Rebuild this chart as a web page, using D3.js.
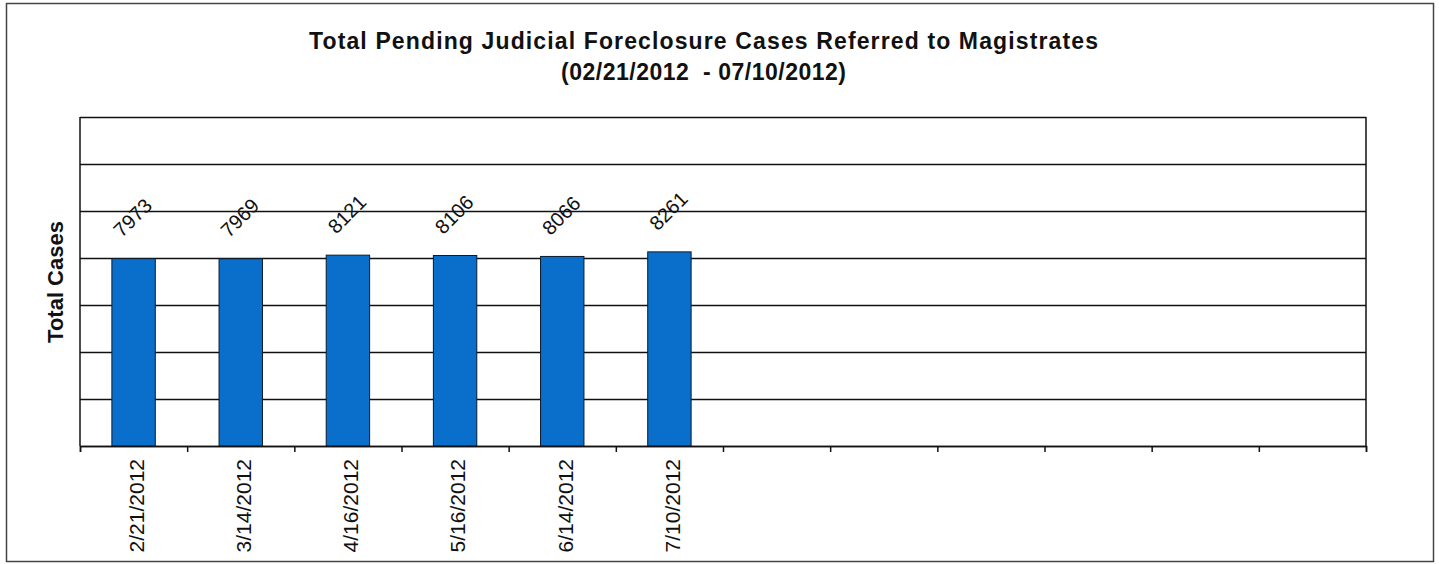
<!DOCTYPE html>
<html>
<head>
<meta charset="utf-8">
<script src="https://cdn.jsdelivr.net/npm/d3@7"></script>
<style>
  body { margin: 0; background: #fff; }
  svg { display: block; font-family: "Liberation Sans", Arial, sans-serif; }
</style>
</head>
<body>
<div id="graph"></div>
<script>
'use strict';

// chart data
const dates = ["2/21/2012", "3/14/2012", "4/16/2012", "5/16/2012", "6/14/2012", "7/10/2012"];
const cases = [7973, 7969, 8121, 8106, 8066, 8261];
const slotCount = 12; // the sheet reserves 12 category slots, only 6 are filled
const yTicks = [0, 2000, 4000, 6000, 8000, 10000, 12000, 14000];

const titleLine1 = "Total Pending Judicial Foreclosure Cases Referred to Magistrates";
const titleLine2 = "(02/21/2012  - 07/10/2012)";
const yLabel = "Total Cases";

(function() {
  const width = 1439, height = 564;
  const plot = { left: 80, right: 1366, top: 117, bottom: 446 };

  const svg = d3.select('#graph').append('svg')
    .attr('width', width)
    .attr('height', height);

  // outer frame
  svg.append('rect')
    .attr('x', 6.5).attr('y', 3.5)
    .attr('width', 1427).attr('height', 558)
    .attr('fill', 'none')
    .attr('stroke', '#444')
    .attr('stroke-width', 1.5);

  // scales
  const slots = d3.range(slotCount);
  const x = d3.scaleBand()
    .domain(slots)
    .range([plot.left, plot.right])
    .paddingInner(0.595)
    .paddingOuter(0.2975);

  const xEdge = d3.scaleLinear()
    .domain([0, slotCount])
    .range([plot.left, plot.right]);

  const y = d3.scaleLinear()
    .domain([0, 14000])
    .range([plot.bottom, plot.top]);

  // horizontal gridlines
  const grid = svg.append('g')
    .attr('transform', `translate(${plot.left},0)`)
    .call(d3.axisLeft(y).tickValues(yTicks).tickSize(-(plot.right - plot.left)).tickFormat(''));
  grid.select('.domain').remove();
  grid.selectAll('.tick line').attr('stroke', '#111').attr('stroke-width', 1.5);

  // left and right plot edges
  svg.append('line')
    .attr('x1', plot.left).attr('x2', plot.left)
    .attr('y1', y(14000)).attr('y2', y(0))
    .attr('stroke', '#111').attr('stroke-width', 1.5);
  svg.append('line')
    .attr('x1', plot.right).attr('x2', plot.right)
    .attr('y1', y(14000)).attr('y2', y(0))
    .attr('stroke', '#111').attr('stroke-width', 1.5);

  // bars
  svg.selectAll('.bar')
    .data(cases)
    .enter()
    .append('rect')
      .attr('class', 'bar')
      .attr('x', (d, i) => x(i))
      .attr('y', d => y(d))
      .attr('width', x.bandwidth())
      .attr('height', d => y(0) - y(d))
      .attr('fill', '#0a6fcb')
      .attr('stroke', '#0d1a2a')
      .attr('stroke-width', 1);

  // value labels, tilted
  svg.selectAll('.valueLabel')
    .data(cases)
    .enter()
    .append('text')
      .attr('class', 'valueLabel')
      .attr('transform', (d, i) => `translate(${x(i) + x.bandwidth() / 2 - 1},${y(d) - 41}) rotate(-45)`)
      .attr('text-anchor', 'middle')
      .attr('dominant-baseline', 'central')
      .style('font-size', '20px')
      .attr('fill', '#111')
      .text(d => d);

  // bottom axis: ticks between category slots
  const xAxisG = svg.append('g')
    .attr('transform', `translate(0,${plot.bottom})`)
    .call(d3.axisBottom(xEdge).tickValues(d3.range(slotCount + 1)).tickSize(6).tickFormat(''));
  xAxisG.select('.domain').attr('stroke', '#111').attr('stroke-width', 1.5);
  xAxisG.selectAll('.tick line').attr('stroke', '#111').attr('stroke-width', 1.5);

  // category labels, vertical
  const labelAxis = d3.axisBottom(x).tickSize(0).tickFormat(i => dates[i] || '');
  const labG = svg.append('g')
    .attr('transform', `translate(0,${plot.bottom})`)
    .call(labelAxis);
  labG.select('.domain').remove();
  labG.selectAll('.tick text')
    .attr('transform', 'translate(3,13) rotate(-90)')
    .attr('x', 0).attr('y', 0).attr('dy', '0.35em')
    .attr('text-anchor', 'end')
    .style('font-size', '21px')
    .style('font-family', '"Liberation Sans", Arial, sans-serif')
    .attr('fill', '#111');

  // title
  svg.append('text')
    .attr('x', 703.5).attr('y', 49)
    .attr('text-anchor', 'middle')
    .style('font-size', '23px')
    .style('font-weight', 'bold')
    .attr('fill', '#111')
    .attr('textLength', 789)
    .attr('lengthAdjust', 'spacing')
    .text(titleLine1);

  svg.append('text')
    .attr('x', 703.5).attr('y', 80)
    .attr('text-anchor', 'middle')
    .attr('xml:space', 'preserve')
    .style('white-space', 'pre')
    .style('font-size', '23px')
    .style('font-weight', 'bold')
    .attr('fill', '#111')
    .attr('textLength', 285)
    .attr('lengthAdjust', 'spacing')
    .text(titleLine2);

  // y axis label
  svg.append('text')
    .attr('transform', 'translate(63,282) rotate(-90)')
    .attr('text-anchor', 'middle')
    .style('font-size', '22px')
    .style('font-weight', 'bold')
    .attr('fill', '#111')
    .text(yLabel);
})();
</script>
</body>
</html>
